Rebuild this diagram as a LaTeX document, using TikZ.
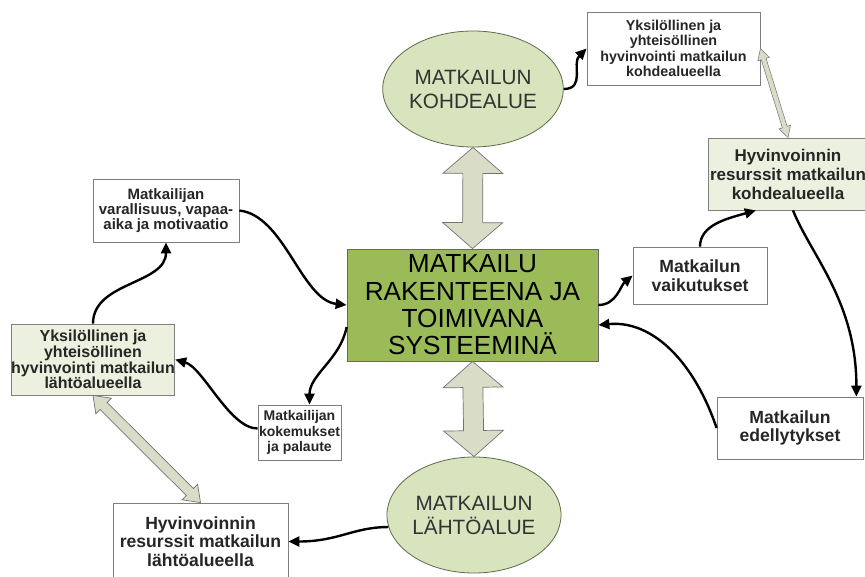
\documentclass[tikz,border=0pt]{standalone}
\usepackage{fontspec}
\setmainfont{Liberation Sans}
\usetikzlibrary{shapes.geometric,arrows.meta,calc}

\definecolor{sysgreen}{HTML}{9BBB59}
\definecolor{ovalgreen}{HTML}{D7E4BD}
\definecolor{palegreen}{HTML}{EBF1DE}
\definecolor{bandfill}{HTML}{D9DCC6}
\definecolor{edgegray}{HTML}{7F7F7F}
\definecolor{ovaledge}{HTML}{5F6B4A}

% hollow double block arrow: #1 start, #2 end, #3 shaft half width,
% #4 head half width, #5 head length, #6 extra style
\newcommand\blockarr[6]{%
  \path (#1) coordinate (ba-s) (#2) coordinate (ba-e);
  \path ($(ba-s)!#5!(ba-e)$) coordinate (ba-p) ($(ba-e)!#5!(ba-s)$) coordinate (ba-q);
  \draw[band,#6] (ba-s) -- ($(ba-p)!#4!90:(ba-e)$) -- ($(ba-p)!#3!90:(ba-e)$)
    -- ($(ba-q)!#3!-90:(ba-s)$) -- ($(ba-q)!#4!-90:(ba-s)$) -- (ba-e)
    -- ($(ba-q)!#4!90:(ba-s)$) -- ($(ba-q)!#3!90:(ba-s)$)
    -- ($(ba-p)!#3!-90:(ba-e)$) -- ($(ba-p)!#4!-90:(ba-e)$) -- cycle;
}

\tikzset{
  box/.style={draw=edgegray, line width=0.8pt, fill=white, align=center,
    inner sep=0pt, text=black!85},
  bigtxt/.style={font=\bfseries\fontsize{17.6}{18.5}\selectfont},
  oval/.style={ellipse, draw=ovaledge, line width=0.8pt, fill=ovalgreen,
    minimum width=138pt, minimum height=116pt, inner sep=0pt, align=center,
    text=black!80, font=\fontsize{20.7}{24}\selectfont},
  band/.style={draw=black!55, line width=0.7pt, fill=bandfill, line join=miter},
  link/.style={line width=2.4pt, draw=black,
    -{Triangle[length=11pt,width=10pt]}},
}

\begin{document}
\begin{tikzpicture}[x=1pt,y=-1pt]
\useasboundingbox (0,0) rectangle (865,576);
\clip (0,0) rectangle (865,576);

% central system and its two regions
\node[draw=black!60, line width=0.8pt, fill=sysgreen, minimum width=251pt,
  minimum height=112pt, inner sep=0pt, align=center,
  font=\fontsize{26.2}{27.3}\selectfont] (sys) at (472.5,305)
  {MATKAILU\\RAKENTEENA JA\\TOIMIVANA\\SYSTEEMINÄ};
\node[oval] (kohde) at (473,89) {MATKAILUN\\KOHDEALUE};
\node[oval] (lahto) at (474,515) {MATKAILUN\\LÄHTÖALUE};

% destination side
\node[box, font=\bfseries\fontsize{14.3}{15.5}\selectfont,
  minimum width=173pt, minimum height=73pt] (ykK) at (673.5,48.5)
  {Yksilöllinen ja\\yhteisöllinen\\hyvinvointi matkailun\\kohdealueella};
\node[box, font=\bfseries\fontsize{17}{19}\selectfont, fill=palegreen,
  minimum width=160pt, minimum height=72pt] (resK) at (788,174)
  {Hyvinvoinnin\\resurssit matkailun\\kohdealueella};
\node[box, bigtxt, minimum width=134pt, minimum height=57pt] (vaik) at (700,275.5)
  {Matkailun\\vaikutukset};
\node[box, bigtxt, minimum width=146pt, minimum height=62pt] (edel) at (790,428)
  {Matkailun\\edellytykset};

% origin side
\node[box, font=\bfseries\fontsize{15}{15}\selectfont,
  minimum width=146pt, minimum height=63pt] (vara) at (166,210.5)
  {Matkailijan\\varallisuus, vapaa-\\aika ja motivaatio};
\node[box, font=\bfseries\fontsize{16}{15.7}\selectfont, fill=palegreen,
  minimum width=162pt, minimum height=71pt] (ykL) at (93,359.5)
  {Yksilöllinen ja\\yhteisöllinen\\hyvinvointi matkailun\\lähtöalueella};
\node[box, font=\bfseries\fontsize{14}{15.8}\selectfont,
  minimum width=83pt, minimum height=55pt] (koke) at (299.5,432.5)
  {Matkailijan\\kokemukset\\ja palaute};
\node[box, bigtxt, minimum width=175pt, minimum height=77pt] (resL) at (200.5,541.5)
  {Hyvinvoinnin\\resurssit matkailun\\lähtöalueella};

% two-way block arrows
\blockarr{kohde.south}{sys.north}{10pt}{30pt}{26pt}{}
\blockarr{sys.south}{lahto.north}{10pt}{30pt}{26pt}{}
\blockarr{ykL.south}{resL.north}{5pt}{11pt}{15pt}{}
\blockarr{ykK.east}{resK.north}{2.5pt}{6pt}{11pt}{line width=0.5pt}

% curved links
\draw[link] (kohde.east) .. controls +(22,0) and +(-15,15) .. (ykK.west);
\draw[link] (sys.east) .. controls +(18,0) and +(-12,10) .. (vaik.west);
\draw[link] (vaik.north) .. controls +(0,-22) and +(-28,8) .. ($(resK.south west)!0.3!(resK.south east)$);
\draw[link] ([xshift=5pt]resK.south) .. controls +(18,45) and +(0,-95) .. ([xshift=-7pt]edel.north east);
\draw[link] (edel.west) .. controls +(-22,-65) and +(55,-5) .. ([yshift=-20pt]sys.east);
\draw[link] (vara.east) .. controls +(45,5) and +(-45,-5) .. (sys.west);
\draw[link] ([yshift=-22pt]sys.west) .. controls +(-6,32) and +(0,-30) .. ([xshift=10pt]koke.north);
\draw[link] ([yshift=4pt]koke.west) .. controls +(-28,0) and +(28,8) .. (ykL.east);
\draw[link] (ykL.north) .. controls +(0,-42) and +(0,42) .. (vara.south);
\draw[link] (lahto.188) .. controls +(-35,0) and +(50,0) .. (resL.east);
\end{tikzpicture}
\end{document}
